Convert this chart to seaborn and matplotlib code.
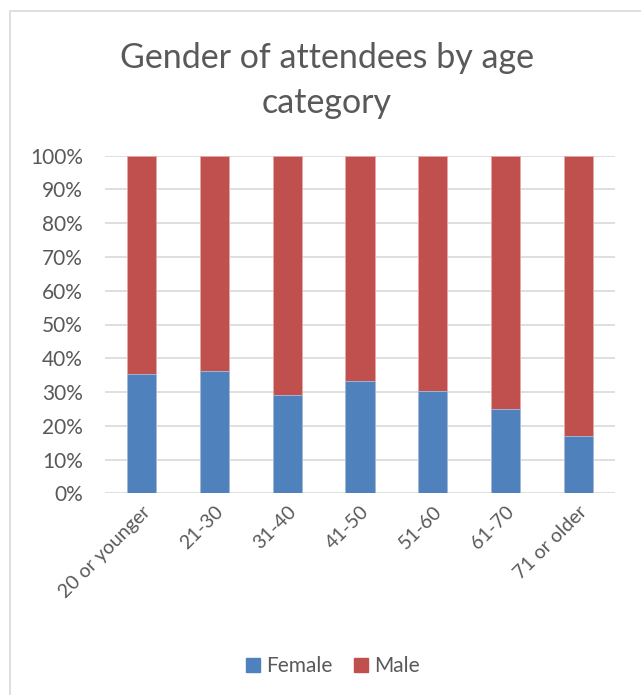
import matplotlib
matplotlib.use("Agg")
import matplotlib.pyplot as plt
import matplotlib.patches as mpatches
from matplotlib.ticker import PercentFormatter
import pandas as pd
import seaborn as sns

# Share of attendees (percent) per age category
age_groups = ["20 or younger", "21-30", "31-40", "41-50", "51-60", "61-70", "71 or older"]
female_pct = [35.2, 36.3, 29.2, 33.2, 30.4, 25.0, 17.0]
male_pct = [100 - f for f in female_pct]
y_ticks = [0, 10, 20, 30, 40, 50, 60, 70, 80, 90, 100]

blue = "#4F81BD"
red = "#C0504D"
text_gray = "#595959"
grid_gray = "#D9D9D9"

sns.set_theme(style="white")
plt.rcParams["font.family"] = ["Lato", "DejaVu Sans"]

df = pd.DataFrame({"age": age_groups, "Female": female_pct, "Male": male_pct})
df["total"] = df["Female"] + df["Male"]

W, H = 641, 695
fig = plt.figure(figsize=(W / 100, H / 100), dpi=100)
ax = fig.add_axes([105 / W, 1 - 493.3 / H, 510 / W, 337.6 / H])

# Stacked bars: full stack in red, female share drawn over it in blue
sns.barplot(data=df, x="age", y="total", color=red, width=0.4, ax=ax,
            saturation=1, edgecolor="#E8A9A7", linewidth=0.6, zorder=3)
sns.barplot(data=df, x="age", y="Female", color=blue, width=0.4, ax=ax,
            saturation=1, edgecolor="#A7C0DE", linewidth=0.6, zorder=4)

ax.set_xlim(-0.5, len(age_groups) - 0.5)
ax.set_ylim(0, 100)
ax.set_yticks(y_ticks)
ax.yaxis.set_major_formatter(PercentFormatter(decimals=0))
ax.grid(axis="y", color=grid_gray, linewidth=1.2, zorder=0)
ax.set_axisbelow(True)
for s in ax.spines.values():
    s.set_visible(False)
ax.set_xlabel("")
ax.set_ylabel("")
ax.tick_params(axis="y", length=0, pad=16, labelsize=15, labelcolor=text_gray)
ax.tick_params(axis="x", length=0, pad=7, labelsize=14, labelcolor=text_gray)
plt.setp(ax.get_xticklabels(), rotation=45, ha="right", va="top",
         rotation_mode="anchor")

title_x = 327 / W
fig.text(title_x, 1 - 58 / H, "Gender of attendees by age", ha="center",
         va="center", fontsize=24.5, color=text_gray)
fig.text(title_x, 1 - 103 / H, "category", ha="center", va="center",
         fontsize=24.5, color=text_gray)

# Chart frame (continues past the right and bottom edges)
frame = mpatches.Rectangle((10 / W, -0.05), 1.0, 1 - 11 / H + 0.05,
                           transform=fig.transFigure, fill=False,
                           edgecolor=grid_gray, linewidth=1.2, clip_on=False)
fig.patches.append(frame)

handles = [mpatches.Patch(color=blue, label="Female"),
           mpatches.Patch(color=red, label="Male")]
fig.legend(handles=handles, loc="center", bbox_to_anchor=(333 / W, 1 - 666 / H),
           ncol=2, frameon=False, fontsize=15, handlelength=0.68,
           handleheight=0.68, handletextpad=0.3, columnspacing=1.0,
           labelcolor=text_gray)

fig.savefig("out.png", dpi=100, facecolor="white")
